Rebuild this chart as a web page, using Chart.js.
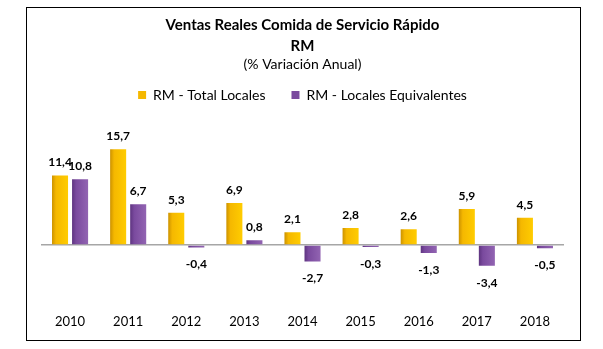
<!DOCTYPE html>
<html><head><meta charset="utf-8">
<script src="https://cdn.jsdelivr.net/npm/chart.js@4"></script>
<style>
html,body{margin:0;padding:0;background:#fff;}
#wrap{position:relative;width:603px;height:349px;}
#frame{position:absolute;left:26px;top:7px;width:553px;height:332px;border:1px solid #000;pointer-events:none;}
canvas{position:absolute;left:0;top:0;}
</style></head>
<body>
<div id="wrap"><canvas id="c" width="603" height="349"></canvas><div id="frame"></div></div>
<script>
const categories = ['2010','2011','2012','2013','2014','2015','2016','2017','2018'];
const totalLocales = [11.4, 15.7, 5.3, 6.9, 2.1, 2.8, 2.6, 5.9, 4.5];
const localesEquivalentes = [10.8, 6.7, -0.4, 0.8, -2.7, -0.3, -1.3, -3.4, -0.5];
const seriesNames = ['RM - Total Locales', 'RM - Locales Equivalentes'];

const FONT = 'Lato, "Open Sans", sans-serif';
const solid = ['#F5B800', '#7A4A9E'];

const gradientPlugin = {
  id: 'grad',
  beforeDatasetsDraw(chart) {
    const ctx = chart.ctx;
    const stops = [['#CC9200', '#F5B800', '#FFCC00'], ['#5E3480', '#7A4A9E', '#9264B2']];
    chart.data.datasets.forEach((ds, di) => {
      const meta = chart.getDatasetMeta(di);
      meta.data.forEach(bar => {
        const l = bar.x - bar.width / 2, r = bar.x + bar.width / 2;
        const g = ctx.createLinearGradient(l, 0, r, 0);
        g.addColorStop(0, stops[di][0]);
        g.addColorStop(0.25, stops[di][1]);
        g.addColorStop(1, stops[di][2]);
        if (!Object.isFrozen(bar.options)) bar.options.backgroundColor = g;
      });
    });
  }
};

const labelPlugin = {
  id: 'vlabels',
  afterDatasetsDraw(chart) {
    const ctx = chart.ctx;
    ctx.save();
    ctx.font = 'bold 12px ' + FONT;
    ctx.fillStyle = '#000';
    ctx.textAlign = 'center';
    ctx.textBaseline = 'middle';
    chart.data.datasets.forEach((ds, di) => {
      const meta = chart.getDatasetMeta(di);
      meta.data.forEach((bar, i) => {
        const v = ds.data[i];
        const txt = v.toFixed(1).replace('.', ',');
        const y = v >= 0 ? bar.y - 13 : bar.y + 17;
        ctx.fillText(txt, bar.x, y);
      });
    });
    ctx.restore();
  }
};

new Chart(document.getElementById('c'), {
  type: 'bar',
  data: {
    labels: categories,
    datasets: [
      { label: seriesNames[0], data: totalLocales, backgroundColor: () => solid[0] },
      { label: seriesNames[1], data: localesEquivalentes, backgroundColor: () => solid[1] }
    ]
  },
  options: {
    responsive: false,
    animation: false,
    devicePixelRatio: 1,
    layout: { padding: { left: 41, right: 39, top: 15, bottom: 9 } },
    datasets: { bar: { categoryPercentage: 0.69, barPercentage: 0.8 } },
    scales: {
      x: {
        grid: { display: false },
        border: { display: false },
        ticks: { color: '#000', font: { family: FONT, size: 13 }, padding: 10 }
      },
      y: {
        min: -8.4, max: 21.8,
        ticks: { display: false },
        border: { display: false },
        grid: { drawTicks: false, lineWidth: 1.5, color: c => c.tick.value === 0 ? '#A6A6A6' : 'rgba(0,0,0,0)' }
      }
    },
    plugins: {
      title: {
        display: true,
        text: ['Ventas Reales Comida de Servicio Rápido', 'RM'],
        color: '#000',
        font: { family: FONT, size: 15, weight: 'bold', lineHeight: 1.4 },
        padding: { top: 0, bottom: 0 }
      },
      subtitle: {
        display: true,
        text: '(% Variación Anual)',
        color: '#000',
        font: { family: FONT, size: 14, lineHeight: 1.0 },
        padding: { top: 0, bottom: -9 }
      },
      legend: {
        display: true,
        labels: { color: '#000', boxWidth: 8, boxHeight: 8, font: { family: FONT, size: 14 }, padding: 26 }
      },
      tooltip: { enabled: false }
    }
  },
  plugins: [gradientPlugin, labelPlugin]
});
</script>
</body></html>
